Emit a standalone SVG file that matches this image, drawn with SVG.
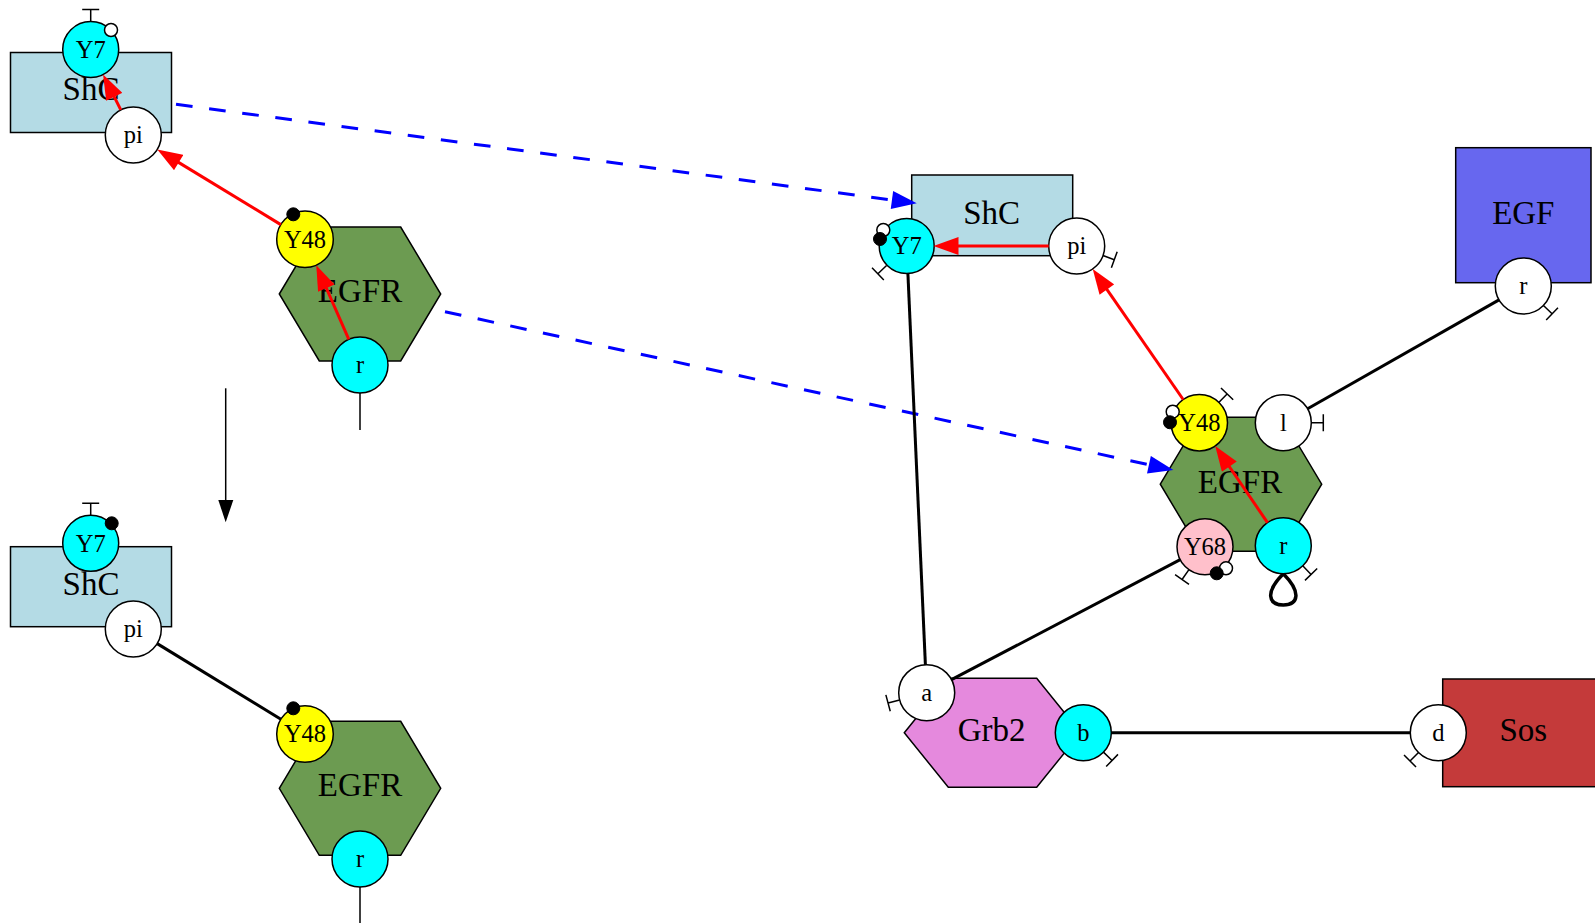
<svg xmlns="http://www.w3.org/2000/svg" xmlns:xlink="http://www.w3.org/1999/xlink" width="1595" height="923" viewBox="0 0 1595 923">
<style>
.mol{stroke:#000;stroke-width:1.5}
.shc{fill:#b4dbe5}
.egfr{fill:#6c9b51}
.pw{fill:#fff;stroke:#000;stroke-width:1.5}
.pc{fill:#0ff;stroke:#000;stroke-width:1.5}
.py{fill:#ff0;stroke:#000;stroke-width:1.5}
.pp{fill:#ffc0cb;stroke:#000;stroke-width:1.5}
.dw{fill:#fff;stroke:#000;stroke-width:1.5}
.db{fill:#000;stroke:#000;stroke-width:1}
.t{font-family:"Liberation Serif","Times New Roman",serif;font-size:33px;text-anchor:middle;fill:#000}
.p{font-family:"Liberation Serif","Times New Roman",serif;font-size:24.5px;text-anchor:middle;fill:#000}
.tb{fill:none;stroke:#000;stroke-width:1.5}
.bond{fill:none;stroke:#000;stroke-width:3}
.red{fill:none;stroke:#f00;stroke-width:3;marker-end:url(#ar)}
.blue{fill:none;stroke:#00f;stroke-width:3;stroke-dasharray:16.7 16.7;marker-end:url(#ab)}
.thin{fill:none;stroke:#000;stroke-width:1.5}
.loop{fill:none;stroke:#000;stroke-width:3.5}
</style>
<defs>
<marker id="ar" markerUnits="userSpaceOnUse" markerWidth="26" markerHeight="18" viewBox="0 0 25 18" refX="5" refY="9" orient="auto"><path d="M0,0L25,9L0,18z" fill="#f00"/></marker>
<marker id="ab" markerUnits="userSpaceOnUse" markerWidth="26" markerHeight="18" viewBox="0 0 25 18" refX="5" refY="9" orient="auto"><path d="M0,0L25,9L0,18z" fill="#00f"/></marker>
<path id="tb" class="tb" d="M28,0H40M40,-8.5V8.5"/>
<polygon id="hex" points="-80.7,0 -40.7,-67 40.7,-67 80.7,0 40.7,67 -40.7,67"/>
</defs>
<rect width="1595" height="923" fill="#fff"/>

<!-- Top-left ShC -->
<g id="shc_tl">
<rect class="mol shc" x="10.5" y="52.5" width="161" height="80"/>
<text class="t" x="91" y="100">ShC</text>
<use href="#tb" transform="translate(90.7,49.5) rotate(-90)"/>
<circle class="pc" cx="90.7" cy="49.5" r="28"/>
<text class="p" x="90.7" y="57.5">Y7</text>
<circle class="dw" cx="111" cy="30" r="6.5"/>
<circle class="pw" cx="133.3" cy="135" r="28"/>
<text class="p" x="133.3" y="143">pi</text>
</g>

<!-- Top-left EGFR -->
<g id="egfr_tl">
<use href="#hex" class="mol egfr" transform="translate(360,294)"/>
<text class="t" x="360" y="302.3">EGFR</text>
<circle class="py" cx="305" cy="239.3" r="28.3"/>
<text class="p" x="305" y="247.5">Y48</text>
<circle class="db" cx="293.3" cy="214.3" r="6.5"/>
<line class="thin" x1="360" y1="393" x2="360" y2="430"/>
<circle class="pc" cx="360" cy="365" r="28"/>
<text class="p" x="360" y="373">r</text>
</g>

<!-- Bottom-left ShC -->
<g id="shc_bl">
<rect class="mol shc" x="10.5" y="546.7" width="161" height="80"/>
<text class="t" x="91" y="595">ShC</text>
<use href="#tb" transform="translate(90.7,543.3) rotate(-90)"/>
<circle class="pc" cx="90.7" cy="543.3" r="28"/>
<text class="p" x="90.7" y="551.5">Y7</text>
<circle class="db" cx="111.7" cy="523.3" r="6.5"/>
<circle class="pw" cx="133.3" cy="629" r="28"/>
<text class="p" x="133.3" y="637">pi</text>
</g>

<!-- Bottom-left EGFR -->
<g id="egfr_bl">
<use href="#hex" class="mol egfr" transform="translate(360,788.3)"/>
<text class="t" x="360" y="796">EGFR</text>
<circle class="py" cx="305" cy="734" r="28.3"/>
<text class="p" x="305" y="742">Y48</text>
<circle class="db" cx="293.3" cy="708.3" r="6.5"/>
<line class="thin" x1="360" y1="887" x2="360" y2="925"/>
<circle class="pc" cx="360" cy="859" r="28"/>
<text class="p" x="360" y="867">r</text>
</g>

<!-- Right ShC -->
<g id="shc_r">
<rect class="mol shc" x="911.7" y="175" width="161" height="80.7"/>
<text class="t" x="991.7" y="224">ShC</text>
<use href="#tb" transform="translate(906.7,246) rotate(136)"/>
<circle class="pc" cx="906.7" cy="246" r="27.5"/>
<text class="p" x="906.7" y="254">Y7</text>
<circle class="dw" cx="883.3" cy="230" r="6.5"/>
<circle class="db" cx="880" cy="239" r="6.5"/>
<use href="#tb" transform="translate(1076.7,246) rotate(20)"/>
<circle class="pw" cx="1076.7" cy="246" r="28"/>
<text class="p" x="1076.7" y="254">pi</text>
</g>

<!-- Right EGFR -->
<g id="egfr_r">
<use href="#hex" class="mol egfr" transform="translate(1241,484.2)"/>
<text class="t" x="1240" y="493.3">EGFR</text>
<use href="#tb" transform="translate(1199.3,422.7) rotate(-46)"/>
<circle class="py" cx="1199.3" cy="422.7" r="28.2"/>
<text class="p" x="1199.3" y="430.7">Y48</text>
<circle class="dw" cx="1172.7" cy="411.7" r="6.5"/>
<circle class="db" cx="1170" cy="422.3" r="6.5"/>
<use href="#tb" transform="translate(1283.3,422.7) rotate(0)"/>
<circle class="pw" cx="1283.3" cy="422.7" r="28"/>
<text class="p" x="1283.3" y="430.7">l</text>
<use href="#tb" transform="translate(1205,546.7) rotate(125)"/>
<circle class="pp" cx="1205" cy="546.7" r="28"/>
<text class="p" x="1205" y="554.7">Y68</text>
<circle class="dw" cx="1226" cy="568.3" r="6.5"/>
<circle class="db" cx="1216.7" cy="573.3" r="6.5"/>
<use href="#tb" transform="translate(1283.3,545.7) rotate(46)"/>
<path class="loop" d="M1283.3,573.7C1265,592 1268,605 1283.3,605C1298.6,605 1301.6,592 1283.3,573.7Z"/>
<circle class="pc" cx="1283.3" cy="545.7" r="28"/>
<text class="p" x="1283.3" y="553.7">r</text>
</g>

<!-- EGF -->
<g id="egf">
<rect class="mol" fill="#6767ef" x="1455.7" y="147.7" width="135.3" height="135"/>
<text class="t" x="1523.3" y="224.3">EGF</text>
<use href="#tb" transform="translate(1523.3,286) rotate(44)"/>
<circle class="pw" cx="1523.3" cy="286" r="28"/>
<text class="p" x="1523.3" y="294">r</text>
</g>

<!-- Grb2 -->
<g id="grb2">
<polygon class="mol" fill="#e589dd" points="904.3,732.7 948.3,678.3 1036.7,678.3 1080.7,732.7 1036.7,787.3 948.3,787.3"/>
<text class="t" x="991.7" y="741">Grb2</text>
<use href="#tb" transform="translate(926.7,692.7) rotate(165)"/>
<circle class="pw" cx="926.7" cy="692.7" r="28"/>
<text class="p" x="926.7" y="700.7">a</text>
<use href="#tb" transform="translate(1083.3,732.7) rotate(44)"/>
<circle class="pc" cx="1083.3" cy="732.7" r="28"/>
<text class="p" x="1083.3" y="740.7">b</text>
</g>

<!-- Sos -->
<g id="sos">
<rect class="mol" fill="#c43a3a" x="1442.7" y="679" width="160" height="107.7"/>
<text class="t" x="1523.3" y="741">Sos</text>
<use href="#tb" transform="translate(1438.3,732.7) rotate(135)"/>
<circle class="pw" cx="1438.3" cy="732.7" r="28"/>
<text class="p" x="1438.3" y="740.7">d</text>
</g>

<!-- Connectors -->
<g id="connectors">
<line class="red" x1="120.8" y1="109.9" x2="112" y2="92.3"/>
<line class="red" x1="280.8" y1="224.6" x2="174.4" y2="159.9"/>
<line class="red" x1="348.8" y1="339.4" x2="324.3" y2="283.5"/>
<line class="blue" x1="176" y1="104.3" x2="896.9" y2="200.7"/>
<line class="blue" x1="445" y1="311.7" x2="1153.8" y2="465.8"/>
<line class="thin" x1="225.7" y1="388.3" x2="225.7" y2="501"/>
<polygon points="218.3,500 233.3,500 225.7,522.3" fill="#000"/>
<line class="bond" x1="157.2" y1="643.6" x2="280.9" y2="719.2"/>
<line class="red" x1="1048.7" y1="246" x2="953.5" y2="246"/>
<line class="red" x1="1183.2" y1="399.5" x2="1104.1" y2="285.4"/>
<line class="red" x1="1267.5" y1="522.6" x2="1226.5" y2="462.5"/>
<line class="bond" x1="907.9" y1="273.5" x2="925.4" y2="664.9"/>
<line class="bond" x1="951.5" y1="679.7" x2="1180.2" y2="559.7"/>
<line class="bond" x1="1307.6" y1="408.8" x2="1499" y2="299.9"/>
<line class="bond" x1="1111.3" y1="732.7" x2="1410.3" y2="732.7"/>
</g>
</svg>
